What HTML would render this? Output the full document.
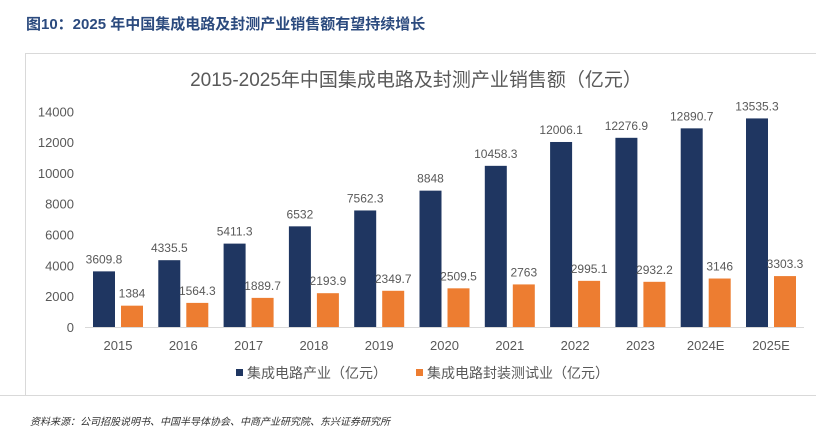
<!DOCTYPE html>
<html><head><meta charset="utf-8"><style>
body{margin:0;background:#fff;width:816px;height:429px;overflow:hidden;font-family:"Liberation Sans","Noto Sans CJK SC",sans-serif}
</style></head><body>
<svg width="816" height="429" xmlns="http://www.w3.org/2000/svg">
<text x="26" y="29" font-size="15" font-weight="bold" fill="#2b4a7e" font-family="Liberation Sans, Noto Sans CJK SC, sans-serif">图10：2025 年中国集成电路及封测产业销售额有望持续增长</text>
<path d="M25.5 395.5 V53.5 H816" fill="none" stroke="#d9d9d9"/>
<line x1="0" y1="395.5" x2="816" y2="395.5" stroke="#d9d9d9"/>
<text x="416" y="86" font-size="19" fill="#595959" text-anchor="middle">2015-2025年中国集成电路及封测产业销售额（亿元）</text>
<g id="plot"></g>
<g>
<rect x="236" y="369" width="7" height="7" fill="#1f3661"/>
<text x="247" y="378" font-size="14" fill="#595959">集成电路产业（亿元）</text>
<rect x="416" y="369" width="7" height="7" fill="#ed7d31"/>
<text x="427" y="378" font-size="14" fill="#595959">集成电路封装测试业（亿元）</text>
</g>
<text x="30" y="425" font-size="10" font-style="italic" fill="#333">资料来源：公司招股说明书、中国半导体协会、中商产业研究院、东兴证券研究所</text>
</svg>
<script>
const categories=["2015","2016","2017","2018","2019","2020","2021","2022","2023","2024E","2025E"];
const icValues=[3609.8,4335.5,5411.3,6532,7562.3,8848,10458.3,12006.1,12276.9,12890.7,13535.3];
const pkgValues=[1384,1564.3,1889.7,2193.9,2349.7,2509.5,2763,2995.1,2932.2,3146,3303.3];
const icLabels=["3609.8","4335.5","5411.3","6532","7562.3","8848","10458.3","12006.1","12276.9","12890.7","13535.3"];
const pkgLabels=["1384","1564.3","1889.7","2193.9","2349.7","2509.5","2763","2995.1","2932.2","3146","3303.3"];
const yTicks=[0,2000,4000,6000,8000,10000,12000,14000];
const NS="http://www.w3.org/2000/svg";
const g=document.getElementById('plot');
const y0=327,yScale=0.01541;
const y=v=>y0-v*yScale;
const x=i=>118+i*65.3;
function mk(t,a,txt){const e=document.createElementNS(NS,t);for(const k in a)e.setAttribute(k,a[k]);if(txt!==undefined)e.textContent=txt;g.appendChild(e);return e;}
yTicks.forEach(v=>{
 const e=mk('text',{x:74,y:y(v)+5,'font-size':13,fill:'#595959','text-anchor':'end'},String(v));
 
 
});
categories.forEach((c,i)=>{
 const cx=x(i);
 const b=mk('rect',{x:cx-25,y:y(icValues[i]),width:22,height:icValues[i]*yScale,fill:'#1f3661'});
 
 
 const o=mk('rect',{x:cx+3,y:y(pkgValues[i]),width:22,height:pkgValues[i]*yScale,fill:'#ed7d31'});
 
 
 const l1=mk('text',{x:cx-14,y:y(icValues[i])-8,'font-size':12,fill:'#595959','text-anchor':'middle'},icLabels[i]);
 
 
 const l2=mk('text',{x:cx+14,y:y(pkgValues[i])-8,'font-size':12,fill:'#595959','text-anchor':'middle'},pkgLabels[i]);
 
 
 const t=mk('text',{x:cx,y:350,'font-size':13,fill:'#595959','text-anchor':'middle'},c);
 
 
});
const ax=mk('line',{x1:85,y1:y0+0.5,x2:804,y2:y0+0.5,stroke:'#d9d9d9'});


</script>
</body></html>
